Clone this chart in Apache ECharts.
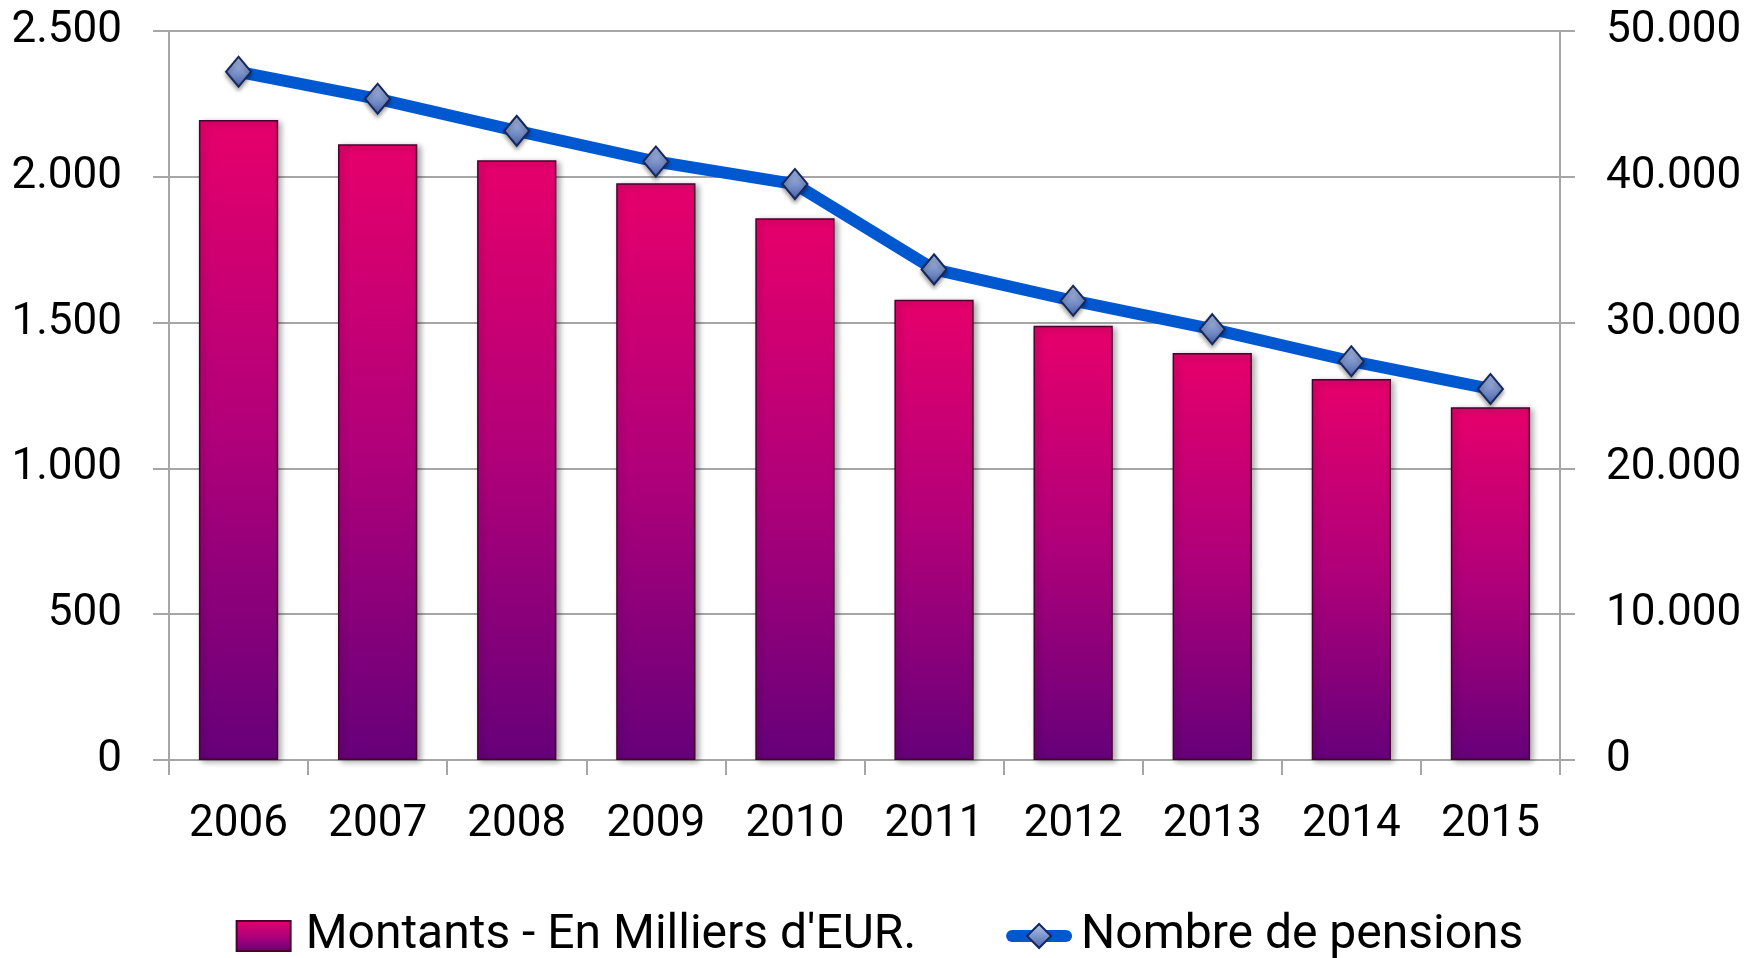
<!DOCTYPE html>
<html>
<head>
<meta charset="utf-8">
<title>Montants et nombre de pensions</title>
<script src="https://cdn.jsdelivr.net/npm/echarts@6/dist/echarts.min.js"></script>
<style>
  html, body { margin: 0; padding: 0; background: #fff; }
  #chart { width: 1759px; height: 958px; }
</style>
</head>
<body>
<div id="chart"></div>
<script>
// categories
var years = ['2006', '2007', '2008', '2009', '2010', '2011', '2012', '2013', '2014', '2015']
// Montants - En Milliers d'EUR. (left axis)
var montants = [2195, 2112, 2057, 1978, 1858, 1578, 1489, 1396, 1307, 1210]
// Nombre de pensions (right axis)
var pensions = [47200, 45350, 43150, 41050, 39500, 33650, 31500, 29550, 27350, 25450]

var barName = "Montants - En Milliers d'EUR."
var lineName = 'Nombre de pensions'

var fontFamily = 'Roboto, "Noto Sans", sans-serif'
var gridGray = '#a6a6a6'
var lineBlue = '#0058d0'

// 2500 -> "2.500"
function fmtDots(v) {
  return String(v).replace(/\B(?=(\d{3})+(?!\d))/g, '.')
}

var barColor = new echarts.graphic.LinearGradient(0, 0, 0, 1, [
  { offset: 0, color: '#e6006b' },
  { offset: 0.5, color: '#b0007a' },
  { offset: 1, color: '#66007a' }
])
var markerColor = new echarts.graphic.LinearGradient(0, 0, 0, 1, [
  { offset: 0, color: '#b8caef' },
  { offset: 1, color: '#4560a8' }
])

var chart = echarts.init(document.getElementById('chart'))

var option = {
  animation: false,
  textStyle: { fontFamily: fontFamily },
  grid: {
    left: 169,
    right: 199,
    top: 31,
    bottom: 198,
    containLabel: false
  },
  legend: {
    top: 904,
    left: 'center',
    itemGap: 90,
    itemWidth: 54,
    itemHeight: 30,
    textStyle: {
      fontSize: 48,
      lineHeight: 54,
      color: '#000',
      fontFamily: fontFamily,
      padding: [0, 0, 0, 10]
    },
    data: [
      { name: barName, icon: 'rect' },
      {
        name: lineName,
        lineStyle: { width: 12, cap: 'round', color: lineBlue }
      }
    ]
  },
  xAxis: {
    type: 'category',
    data: years,
    axisLine: { show: true, lineStyle: { color: gridGray, width: 2 } },
    axisTick: { show: true, length: 15, lineStyle: { color: gridGray, width: 2 } },
    axisLabel: { fontSize: 44, color: '#000', margin: 43 }
  },
  yAxis: [
    {
      type: 'value',
      min: 0,
      max: 2500,
      interval: 500,
      axisLine: { show: true, lineStyle: { color: gridGray, width: 2 } },
      axisTick: { show: true, length: 16, lineStyle: { color: gridGray, width: 2 } },
      splitLine: { show: true, lineStyle: { color: gridGray, width: 2 } },
      axisLabel: { fontSize: 44, color: '#000', margin: 47, formatter: fmtDots }
    },
    {
      type: 'value',
      min: 0,
      max: 50000,
      interval: 10000,
      position: 'right',
      axisLine: { show: true, lineStyle: { color: gridGray, width: 2 } },
      axisTick: { show: true, length: 15, lineStyle: { color: gridGray, width: 2 } },
      splitLine: { show: false },
      axisLabel: { fontSize: 44, color: '#000', margin: 46, formatter: fmtDots }
    }
  ],
  series: [
    {
      name: barName,
      type: 'bar',
      data: montants,
      barWidth: '57%',
      itemStyle: {
        color: barColor,
        borderColor: '#4a0030',
        borderWidth: 1.5,
        shadowColor: 'rgba(0,0,0,0.35)',
        shadowBlur: 6,
        shadowOffsetX: 3,
        shadowOffsetY: 2
      }
    },
    {
      name: lineName,
      type: 'line',
      yAxisIndex: 1,
      data: pensions,
      z: 5,
      symbol: 'diamond',
      symbolSize: [25, 30],
      lineStyle: { color: lineBlue, width: 12 },
      itemStyle: {
        color: markerColor,
        borderColor: '#14275e',
        borderWidth: 2,
        shadowColor: 'rgba(0,0,0,0.35)',
        shadowBlur: 4,
        shadowOffsetY: 3
      }
    }
  ]
}

chart.setOption(option)
</script>
</body>
</html>
